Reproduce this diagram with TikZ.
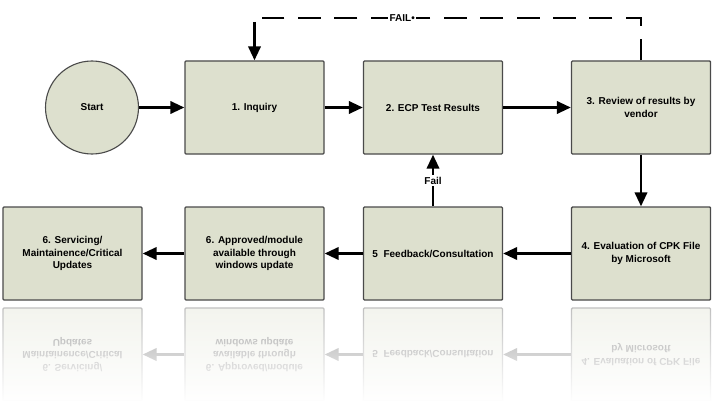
\documentclass[tikz,border=0pt]{standalone}
\usepackage{fontspec}
\setmainfont{Liberation Sans}
\usetikzlibrary{arrows.meta,fadings}
\definecolor{boxfill}{HTML}{DDE0CE}
\definecolor{boxline}{HTML}{4A4A4A}
\tikzfading[name=reflfade, top color=transparent!36, bottom color=transparent!0]
\tikzset{
  stepbox/.style={draw=boxline, line width=1.4pt, fill=boxfill, rounded corners=1pt,
    minimum width=139pt, minimum height=93pt, align=center, inner sep=2pt,
    font=\fontsize{10}{12.5}\selectfont\bfseries},
  startnode/.style={circle, draw=boxline, line width=1.1pt, fill=boxfill, minimum size=93pt,
    font=\fontsize{10}{12}\selectfont\bfseries},
  flow/.style={line width=2.3pt, -{Triangle[length=14pt,width=12.5pt]}},
  lab/.style={fill=white, inner sep=1.5pt, font=\fontsize{10}{11}\selectfont\bfseries}
}
\begin{document}
\begin{tikzpicture}[x=1pt,y=1pt]
\fill[white] (0,0) rectangle (714,405);
\useasboundingbox (0,0) rectangle (714,405);
% top row
\node[startnode] (st) at (92,297.5) {Start};
\node[stepbox] (b1) at (254.5,297.5) {1. Inquiry};
\node[stepbox] (b2) at (433,297.5) {2. ECP Test Results};
\node[stepbox] (b3) at (641,297.5) {3. Review of results by\\vendor};
% bottom row
\node[stepbox] (b4) at (641,151.5) {4. Evaluation of CPK File\\by Microsoft};
\node[stepbox] (b5) at (433,151.5) {5\ \ Feedback/Consultation};
\node[stepbox] (b6) at (254.5,151.5) {6. Approved/module\\available through\\windows update};
\node[stepbox] (b7) at (72.5,151.5) {6. Servicing/\\Maintainence/Critical\\Updates};
% connectors
\draw[flow] (st) -- (b1);
\draw[flow] (b1) -- (b2);
\draw[flow] (b2) -- (b3);
\draw[flow] (b3) -- (b4);
\draw[flow] (b4) -- (b5);
\draw[flow] (b5) -- (b6);
\draw[flow] (b6) -- (b7);
\draw[flow] (b5) -- node[lab] {Fail} (b2);
% dashed FAIL loop
\coordinate (fc) at (254.5,383);
\draw[line width=2.3pt, dash pattern=on 23pt off 13.45pt, dash phase=2pt]
  (b3.north) -- (641,387) -- node[lab, pos=0.63] {FAIL•} (262,387);
\draw[flow] (fc) -- (b1.north);
% reflection
\begin{scope}[cm={1,0,0,-1,(0,202)}, transform shape]
\node[stepbox] (r4) at (641,151.5) {4. Evaluation of CPK File\\by Microsoft};
\node[stepbox] (r5) at (433,151.5) {5\ \ Feedback/Consultation};
\node[stepbox] (r6) at (254.5,151.5) {6. Approved/module\\available through\\windows update};
\node[stepbox] (r7) at (72.5,151.5) {6. Servicing/\\Maintainence/Critical\\Updates};
\draw[flow] (r4) -- (r5);
\draw[flow] (r5) -- (r6);
\draw[flow] (r6) -- (r7);
\end{scope}
\fill[white, path fading=reflfade] (0,3) rectangle (714,101);
\fill[white] (0,0) rectangle (714,4);
\end{tikzpicture}
\end{document}
